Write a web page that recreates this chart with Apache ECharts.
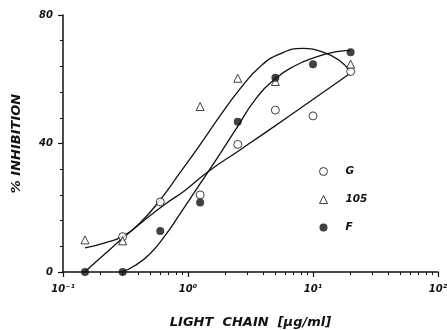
<!DOCTYPE html>
<html>
<head>
<meta charset="utf-8">
<script src="https://cdn.jsdelivr.net/npm/echarts@6/dist/echarts.min.js"></script>
<style>
	html, body { margin: 0; padding: 0; background: #fff; }
	#main { width: 447px; height: 330px; }
</style>
</head>
<body>
<div id="main"></div>
<script>
	// measured points (light chain ug/ml, % inhibition)
	var ptsG = [[0.3, 11], [0.6, 21.8], [1.25, 24], [2.5, 39.7], [5, 50.4], [10, 48.6], [20, 62.4]];
	var pts105 = [[0.15, 10], [0.3, 9.7], [1.25, 51.5], [2.5, 60.3], [5, 59.3], [20, 64.7]];
	var ptsF = [[0.15, 0], [0.3, 0], [0.6, 12.8], [1.25, 21.6], [2.5, 46.8], [5, 60.5], [10, 64.7], [20, 68.4]];

	// fitted curves
	var fitG = [[0.15, 0.1], [0.217, 5.7], [0.313, 11.1], [0.453, 16.3], [0.655, 21.1], [0.946, 25.4],
		[1.445, 31.2], [2.606, 38.0], [4.529, 44.4], [9.462, 53.1], [19.77, 61.8]];
	var fit105 = [[0.15, 7.5], [0.217, 9.1], [0.296, 11.0], [0.413, 15.3], [0.597, 22.4], [0.863, 30.9],
		[1.247, 39.6], [1.803, 48.6], [2.606, 57.0], [3.767, 63.9], [5.445, 67.9], [8.318, 69.6],
		[12.47, 68.2], [16.44, 65.7], [19.77, 62.6]];
	var fitF = [[0.296, 0], [0.377, 2.0], [0.497, 5.7], [0.655, 11.3], [0.863, 18.1], [1.247, 27.4],
		[1.803, 36.8], [2.512, 45.5], [3.436, 53.6], [4.966, 60.1], [7.178, 64.2], [10.37, 66.8],
		[15.0, 68.5], [19.77, 69.0]];

	var xMajor = [0.1, 1, 10, 100];
	var xMajorText = ['10⁻¹', '10⁰', '10¹', '10²'];
	var xMinor = [0.2, 0.3, 0.4, 0.5, 0.6, 0.7, 0.8, 0.9, 2, 3, 4, 5, 6, 7, 8, 9, 20, 30, 40, 50, 60, 70, 80, 90];
	var yLabels = [0, 40, 80];

	var font = 'DejaVu Sans, Liberation Sans, sans-serif';
	var txt = { fontFamily: font, fontStyle: 'italic', fontWeight: 'bold', color: '#111' };

	function fitSeries(data) {
		return {
			type: 'line',
			data: data,
			smooth: 0.5,
			showSymbol: false,
			silent: true,
			lineStyle: { color: '#111', width: 1.3 },
			z: 2
		}
	}

	var myChart = echarts.init(document.getElementById('main'));
	var option = {
		animation: false,
		backgroundColor: '#fff',
		grid: { left: 63, right: 9, top: 15, bottom: 58, outerBoundsMode: 'none' },
		legend: {
			data: ['G', '105', 'F'],
			orient: 'vertical',
			left: 314,
			top: 161,
			itemWidth: 8,
			itemHeight: 8,
			itemGap: 17,
			selectedMode: false,
			itemStyle: { borderWidth: 1 },
			textStyle: Object.assign({ fontSize: 10.5, padding: [0, 0, 0, 13] }, txt)
		},
		xAxis: [
			{
				type: 'log',
				logBase: 10,
				min: 0.1,
				max: 100,
				name: 'LIGHT  CHAIN  [µg/ml]',
				nameLocation: 'middle',
				nameGap: 44,
				nameTextStyle: Object.assign({ fontSize: 13 }, txt),
				axisLine: { lineStyle: { color: '#111', width: 1.5 } },
				axisTick: { show: true, length: 3, customValues: xMinor, lineStyle: { color: '#111' } },
				axisLabel: { show: false },
				splitLine: { show: false }
			},
			{
				type: 'log',
				logBase: 10,
				min: 0.1,
				max: 100,
				position: 'bottom',
				axisLine: { show: false },
				axisTick: { show: true, length: 5, lineStyle: { color: '#111', width: 1.2 } },
				axisLabel: Object.assign({
					fontSize: 10,
					margin: 12,
					formatter: function (v) {
						var i = xMajor.indexOf(v);
						return i >= 0 ? xMajorText[i] : '';
					}
				}, txt),
				splitLine: { show: false }
			}
		],
		yAxis: {
			type: 'value',
			min: 0,
			max: 80,
			interval: 40,
			name: '% INHIBITION',
			nameLocation: 'middle',
			nameGap: 40,
			nameTextStyle: Object.assign({ fontSize: 13 }, txt),
			axisLine: { show: true, lineStyle: { color: '#111', width: 1.5 } },
			axisTick: { show: true, length: 5, lineStyle: { color: '#111', width: 1.2 } },
			minorTick: { show: true, splitNumber: 5, length: 3, lineStyle: { color: '#111' } },
			axisLabel: Object.assign({
				fontSize: 10,
				margin: 10,
				formatter: function (v) { return yLabels.indexOf(v) >= 0 ? v : ''; }
			}, txt),
			splitLine: { show: false }
		},
		series: [
			fitSeries(fitG),
			fitSeries(fit105),
			fitSeries(fitF),
			{
				name: 'G',
				type: 'scatter',
				data: ptsG,
				symbol: 'circle',
				symbolSize: 8,
				itemStyle: { color: '#fff', borderColor: '#111', borderWidth: 1 },
				z: 3
			},
			{
				name: '105',
				type: 'scatter',
				data: pts105,
				symbol: 'triangle',
				symbolSize: [8, 8],
				itemStyle: { color: '#fff', borderColor: '#111', borderWidth: 1 },
				z: 3
			},
			{
				name: 'F',
				type: 'scatter',
				data: ptsF,
				symbol: 'circle',
				symbolSize: 8,
				itemStyle: { color: '#111' },
				z: 4
			}
		]
	}
	myChart.setOption(option, true);
</script>
</body>
</html>
